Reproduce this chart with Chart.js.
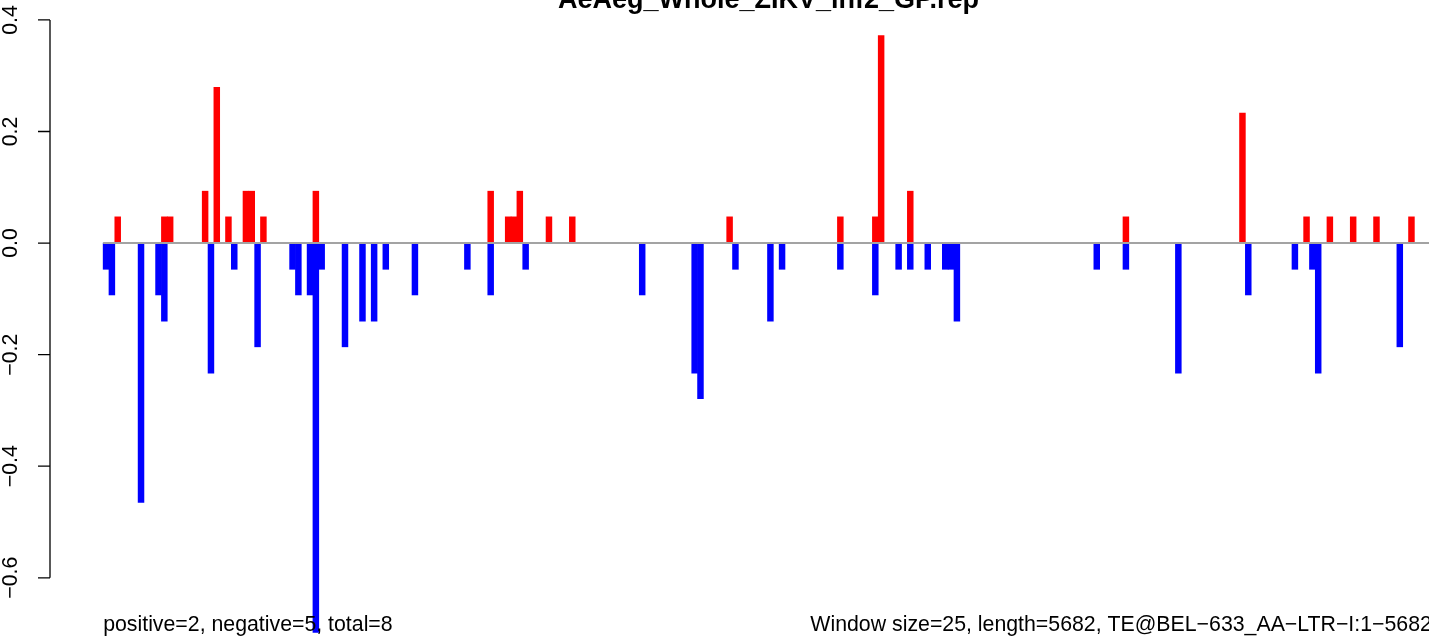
<!DOCTYPE html>
<html>
<head>
<meta charset="utf-8">
<script src="https://cdn.jsdelivr.net/npm/chart.js@4"></script>
<style>
  html, body { margin: 0; padding: 0; background: #fff; overflow: hidden; }
  #chart { display: block; }
</style>
</head>
<body>
<canvas id="chart" width="1540" height="680" style="width:1540px;height:680px"></canvas>
<script>
const ctx = document.getElementById("chart").getContext("2d");

// window index -> value
const nWindows = 228
const posWindows = [2, 10, 11, 17, 19, 21, 24, 25, 27, 36, 66, 69, 70, 71, 76, 80, 107, 126, 132, 133, 138, 175, 195, 206, 210, 214, 218, 224]
const posValues = [0.047, 0.047, 0.047, 0.093, 0.279, 0.047, 0.093, 0.093, 0.047, 0.093, 0.093, 0.047, 0.047, 0.093, 0.047, 0.047, 0.047, 0.047, 0.047, 0.372, 0.093, 0.047, 0.233, 0.047, 0.047, 0.047, 0.047, 0.047]
const negWindows = [0, 1, 6, 9, 10, 18, 22, 26, 32, 33, 35, 36, 37, 41, 44, 46, 48, 53, 62, 66, 72, 92, 101, 102, 108, 114, 116, 126, 132, 136, 138, 141, 144, 145, 146, 170, 175, 184, 196, 204, 207, 208, 222]
const negValues = [-0.047, -0.093, -0.465, -0.093, -0.14, -0.233, -0.047, -0.186, -0.047, -0.093, -0.093, -0.698, -0.047, -0.186, -0.14, -0.14, -0.047, -0.093, -0.047, -0.093, -0.047, -0.093, -0.233, -0.279, -0.047, -0.14, -0.047, -0.047, -0.093, -0.047, -0.047, -0.047, -0.047, -0.047, -0.14, -0.047, -0.047, -0.233, -0.093, -0.047, -0.047, -0.233, -0.186]

const yTicks = [-0.6, -0.4, -0.2, 0, 0.2, 0.4]
const yTickLabels = ["\u22120.6", "\u22120.4", "\u22120.2", "0.0", "0.2", "0.4"]

const title = "AeAeg_Whole_ZIKV_inf2_GP.rep"
const leftNote = "positive=2, negative=5, total=8"
const rightNote = "Window size=25, length=5682, TE@BEL\u2212633_AA\u2212LTR\u2212I:1\u22125682"

const fontFamily = "'Liberation Sans', Arial, Helvetica, sans-serif"
const fontSize = 21.3

function toPoints(windows, values) {
    return windows.map((w, i) => ({ x: w + 0.5, y: values[i] }))
}

// R-like decorations: y axis, zero line, title, notes
const rDecor = {
    id: "rDecor",
    afterDatasetsDraw(chart) {
        const c = chart.ctx
        const x = chart.scales.x
        const y = chart.scales.y
        const left = chart.chartArea.left
        c.save()

        // zero line
        c.strokeStyle = "#a3a3a3"
        c.lineWidth = 2
        c.beginPath()
        c.moveTo(x.getPixelForValue(0), y.getPixelForValue(0))
        c.lineTo(x.getPixelForValue(nWindows), y.getPixelForValue(0))
        c.stroke()

        // y axis
        c.strokeStyle = "#000"
        c.lineWidth = 1.3
        c.beginPath()
        c.moveTo(left, y.getPixelForValue(yTicks[0]))
        c.lineTo(left, y.getPixelForValue(yTicks[yTicks.length - 1]))
        yTicks.forEach(v => {
            const py = y.getPixelForValue(v)
            c.moveTo(left, py)
            c.lineTo(left - 12, py)
        })
        c.stroke()

        c.fillStyle = "#000"
        c.font = fontSize + "px " + fontFamily
        c.textAlign = "center"
        c.textBaseline = "alphabetic"
        yTicks.forEach((v, i) => {
            c.save()
            c.translate(17, y.getPixelForValue(v))
            c.rotate(-Math.PI / 2)
            c.fillText(yTickLabels[i], 0, 0)
            c.restore()
        })

        // title
        c.font = "bold 27px " + fontFamily
        c.textAlign = "center"
        c.fillText(title, (chart.chartArea.left + chart.chartArea.right) / 2 + 1, 8)

        // bottom notes
        c.font = fontSize + "px " + fontFamily
        c.textAlign = "left"
        c.fillText(leftNote, x.getPixelForValue(0), 631)
        c.textAlign = "right"
        c.fillText(rightNote, x.getPixelForValue(nWindows), 631)

        c.restore()
    }
}

const pad = nWindows * 0.04

window.windowChart = new Chart(ctx, {
    type: "bar",
    data: {
        datasets: [
            {
                label: "positive",
                data: toPoints(posWindows, posValues),
                backgroundColor: "#ff0000",
                borderWidth: 0,
                grouped: false,
                barPercentage: 1,
                categoryPercentage: 1
            },
            {
                label: "negative",
                data: toPoints(negWindows, negValues),
                backgroundColor: "#0000ff",
                borderWidth: 0,
                grouped: false,
                barPercentage: 1,
                categoryPercentage: 1
            }
        ]
    },
    options: {
        responsive: false,
        animation: false,
        devicePixelRatio: 1,
        layout: { padding: { left: 50, right: 55, top: 11, bottom: 23 } },
        plugins: { legend: { display: false }, tooltip: { enabled: false } },
        scales: {
            x: { type: "linear", min: -pad, max: nWindows + pad, display: false, offset: false },
            y: { min: -0.742, max: 0.416, display: false }
        }
    },
    plugins: [rDecor]
})
</script>
</body>
</html>
